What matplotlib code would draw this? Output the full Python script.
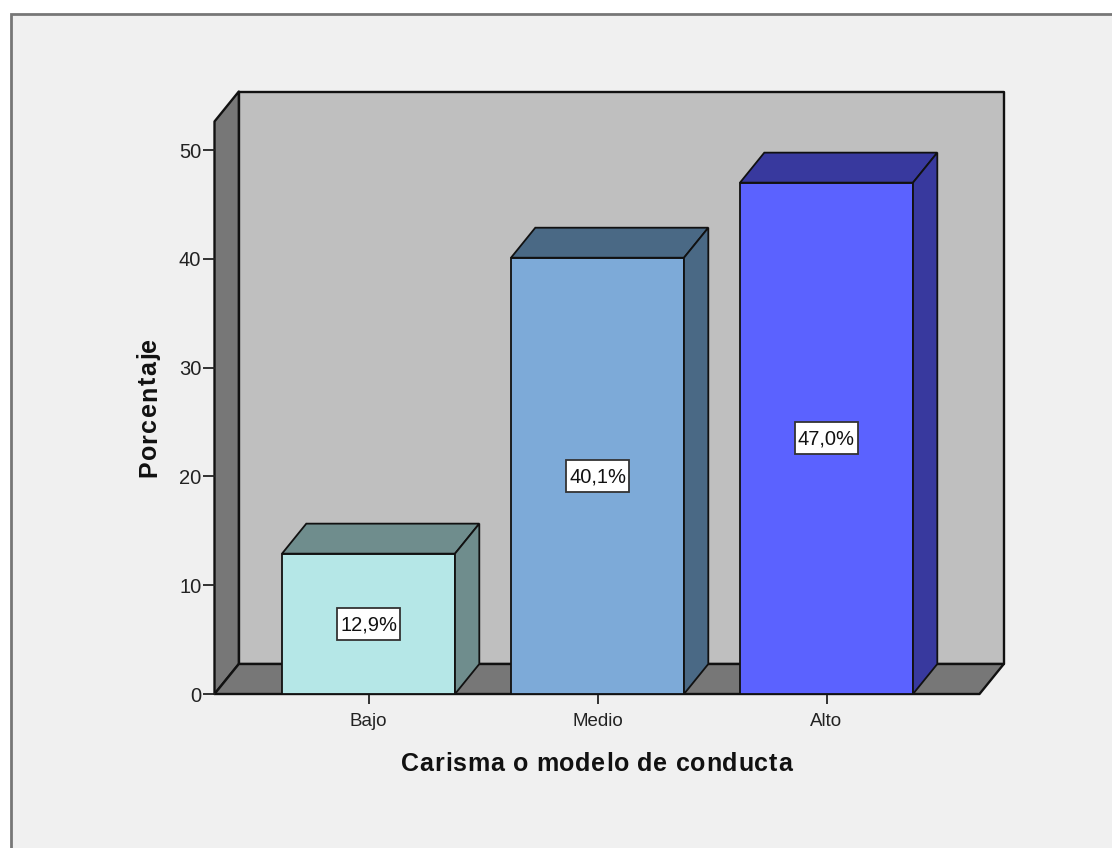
import matplotlib.pyplot as plt
from matplotlib.font_manager import FontProperties, findfont, get_font
from matplotlib.ft2font import LoadFlags
from matplotlib.patches import Polygon, Rectangle

plt.rcParams['font.family'] = ['Liberation Sans', 'DejaVu Sans']

# datos del grafico
categorias = ['Bajo', 'Medio', 'Alto']
porcentajes = [12.9, 40.1, 47.0]
etiquetas = ['12,9%', '40,1%', '47,0%']
ticks_y = [0, 10, 20, 30, 40, 50]

colores_frente = ['#b5e7e7', '#7daad8', '#5b62ff']
colores_lado = ['#6f8d8d', '#4a6985', '#38399e']

W, H = 1112, 848
fig = plt.figure(figsize=(W / 100, H / 100), dpi=100, facecolor='white')

# marco gris de fondo (queda cortado a la derecha y abajo)
fig.add_artist(Rectangle((10.5 / W, -0.02), 1.02, 1 - 14 / H + 0.02, transform=fig.transFigure,
                         facecolor='#f0f0f0', edgecolor='#777777', linewidth=2, zorder=-5))

x0, x1 = 214.5, 979.5
y0, y1 = 694, 121.5
ax = fig.add_axes([x0 / W, 1 - y0 / H, (x1 - x0) / W, (y0 - y1) / H])
ax.set_facecolor('none')
por_cat = 229.0
por_unidad = 10.88
ax.set_xlim((x0 - 368.5) / por_cat, (x1 - 368.5) / por_cat)
ax.set_ylim(0, (y0 - y1) / por_unidad)

dx = 24.3 / por_cat
dy = 30 / por_unidad
ancho = 173 / por_cat
caja_w = 63 / por_cat
caja_h = 32 / por_unidad
xa, xb = ax.get_xlim()
ya, yb = ax.get_ylim()
borde = dict(edgecolor='#111111', linewidth=1.7, clip_on=False, joinstyle='round')

# paredes y suelo
ax.add_patch(Polygon([(xa + dx, ya + dy), (xb + dx, ya + dy), (xb + dx, yb + dy), (xa + dx, yb + dy)],
                     facecolor='#bfbfbf', **borde))
ax.add_patch(Polygon([(xa, ya), (xa + dx, ya + dy), (xa + dx, yb + dy), (xa, yb)],
                     facecolor='#777777', **borde))
ax.add_patch(Polygon([(xa, ya), (xb, ya), (xb + dx, ya + dy), (xa + dx, ya + dy)],
                     facecolor='#777777', **borde))

# barras
for i, v in enumerate(porcentajes):
    l, r = i - ancho / 2, i + ancho / 2
    ax.bar(i, v, ancho, color=colores_frente[i], edgecolor='#111111', linewidth=1.3, zorder=3, clip_on=False)
    ax.add_patch(Polygon([(l, v), (r, v), (r + dx, v + dy), (l + dx, v + dy)],
                         facecolor=colores_lado[i], edgecolor='#111111', linewidth=1.3, zorder=3, clip_on=False))
    ax.add_patch(Polygon([(r, 0), (r + dx, dy), (r + dx, v + dy), (r, v)],
                         facecolor=colores_lado[i], edgecolor='#111111', linewidth=1.3, zorder=3, clip_on=False))
    # caja de la etiqueta (mas alta que ancha de margen, por eso no se usa bbox)
    ax.add_patch(Rectangle((i - caja_w / 2, v / 2 - caja_h / 2), caja_w, caja_h, facecolor='white',
                           edgecolor='#333333', linewidth=1.3, zorder=4))
    ax.annotate(etiquetas[i], (i, v / 2), xytext=(0, -1), textcoords='offset pixels', ha='center',
                va='center', fontsize=14.5, color='#111111', zorder=5)

for s in ax.spines.values():
    s.set_visible(False)

ax.set_xticks(range(len(categorias)))
ax.set_xticklabels(categorias, fontsize=13.5, color='#222222')
ax.set_yticks(ticks_y)
ax.set_yticklabels([str(t) for t in ticks_y], fontsize=14.5, color='#222222')
ax.tick_params(axis='x', length=7, width=1.3, color='#222222', pad=7)
ax.tick_params(axis='y', length=9, width=1.3, color='#222222', pad=0.5)


def texto_espaciado(cx, cy, s, extra, vertical=False):
    # matplotlib no tiene letter-spacing: se coloca letra a letra
    kw = dict(fontsize=18, fontweight='bold', color='#111111')
    fuente = get_font(findfont(FontProperties(family='Liberation Sans', weight='bold')))
    fuente.set_size(18, 100)
    avances = [fuente.load_char(ord(c), flags=LoadFlags.NO_HINTING).linearHoriAdvance / 65536 + extra for c in s]
    total = sum(avances) - extra
    d = -total / 2
    for c, a in zip(s, avances):
        if c != ' ':
            if vertical:
                fig.text(cx / W, 1 - (cy - d) / H, c, rotation=90, ha='left', va='baseline',
                         rotation_mode='anchor', **kw)
            else:
                fig.text((cx + d) / W, 1 - cy / H, c, ha='left', va='baseline', **kw)
        d += a


texto_espaciado(596.5, 771, 'Carisma o modelo de conducta', 0.75)
texto_espaciado(156, 407.5, 'Porcentaje', 1.3, vertical=True)

fig.savefig('out.png', dpi=100, facecolor='white')
